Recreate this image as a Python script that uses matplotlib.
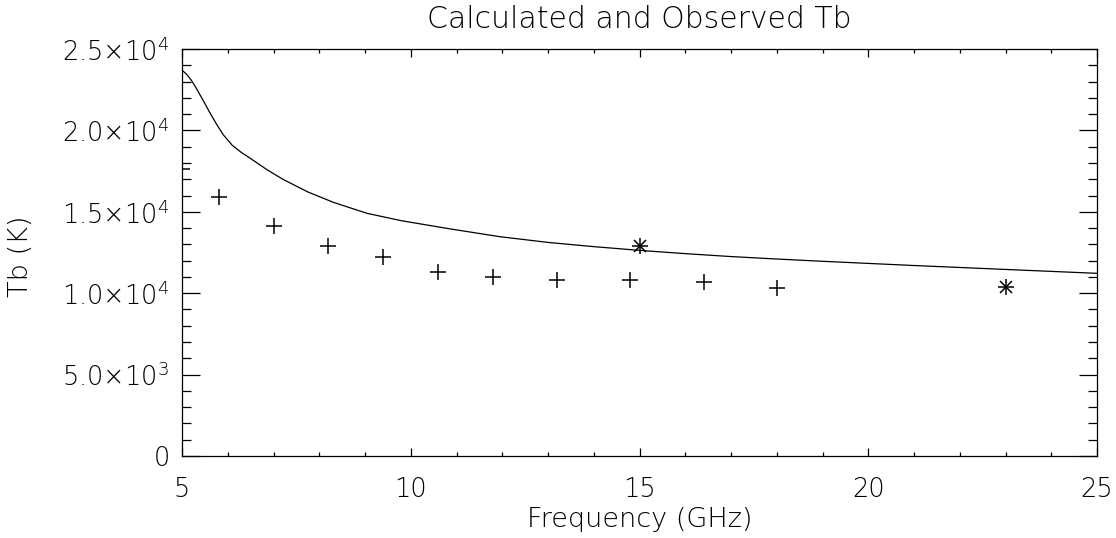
import matplotlib
matplotlib.use("Agg")
import matplotlib.pyplot as plt
from matplotlib.ticker import MultipleLocator, FixedLocator, FuncFormatter

plt.rcParams['font.family'] = ['DejaVu Sans']
plt.rcParams['font.weight'] = 200
plt.rcParams['axes.titleweight'] = 200
plt.rcParams['axes.labelweight'] = 200

# Calculated curve
calc_freq = [5.0, 5.1, 5.2, 5.3, 5.4, 5.5, 5.6, 5.76, 5.9, 6.1, 6.3, 6.49, 6.85, 7.21,
             7.75, 8.31, 9.04, 9.8, 10.86, 11.95, 13.0, 14.0, 15.0, 16.0, 17.0, 18.0,
             19.0, 20.0, 21.0, 22.0, 23.0, 24.0, 25.0]
calc_tb = [23700, 23450, 23100, 22650, 22150, 21650, 21130, 20360, 19740, 19080, 18640,
           18290, 17600, 16990, 16220, 15580, 14910, 14450, 13950, 13470, 13120, 12860,
           12630, 12430, 12250, 12100, 11960, 11830, 11700, 11580, 11460, 11340, 11220]

# Observed (plus symbols)
obs_freq = [5.0, 5.8, 7.0, 8.2, 9.4, 10.6, 11.8, 13.2, 14.8, 16.4, 18.0]
obs_tb = [17600, 15930, 14120, 12920, 12200, 11320, 10990, 10810, 10810, 10710, 10300]

# Observed (asterisk symbols)
ast_freq = [15.0, 23.0]
ast_tb = [12920, 10400]

x_ticks = [5, 10, 15, 20, 25]
y_ticks = [0, 5000, 10000, 15000, 20000, 25000]
title = "Calculated and Observed Tb"
xlabel = "Frequency (GHz)"
ylabel = "Tb (K)"

fig = plt.figure(figsize=(11.16, 5.38), dpi=100)
ax = fig.add_axes([182/1116, 1-456/538, (1097-182)/1116, (456-49)/538])

ax.plot(calc_freq, calc_tb, color='black', lw=0.9)
ax.plot(obs_freq, obs_tb, linestyle='none', marker='+', color='black', ms=12, mew=1.1)
ax.plot(ast_freq, ast_tb, linestyle='none', marker='+', color='black', ms=12, mew=1.1)
ax.plot(ast_freq, ast_tb, linestyle='none', marker='x', color='black', ms=9, mew=1.1)

ax.set_xlim(5, 25)
ax.set_ylim(0, 25000)
ax.xaxis.set_major_locator(FixedLocator(x_ticks))
ax.xaxis.set_minor_locator(MultipleLocator(1))
ax.yaxis.set_major_locator(FixedLocator(y_ticks))
ax.yaxis.set_minor_locator(MultipleLocator(1000))


def yfmt(v, pos):
    if v == 0:
        return "0"
    if v < 10000:
        return r"$\mathregular{%.1f{\times}10^{3}}$" % (v / 1000)
    return r"$\mathregular{%.1f{\times}10^{4}}$" % (v / 10000)


ax.yaxis.set_major_formatter(FuncFormatter(yfmt))
ax.xaxis.set_major_formatter(FuncFormatter(lambda v, p: "%d" % v))

ax.tick_params(axis='both', which='both', direction='in', top=True, right=True,
               labelsize=18.5, width=0.9, color='black')
ax.tick_params(axis='y', which='major', length=13, pad=9)
ax.tick_params(axis='y', which='minor', length=6.5)
ax.tick_params(axis='x', which='major', length=6, pad=15)
ax.tick_params(axis='x', which='minor', length=3)
for s in ax.spines.values():
    s.set_linewidth(0.9)

ax.set_title(title, fontsize=21.5, pad=15)
ax.set_xlabel(xlabel, fontsize=19.5, labelpad=4)
ax.set_ylabel(ylabel, fontsize=19.5)
ax.yaxis.set_label_coords(-0.163, 0.49)

fig.savefig("out.png", dpi=100)
